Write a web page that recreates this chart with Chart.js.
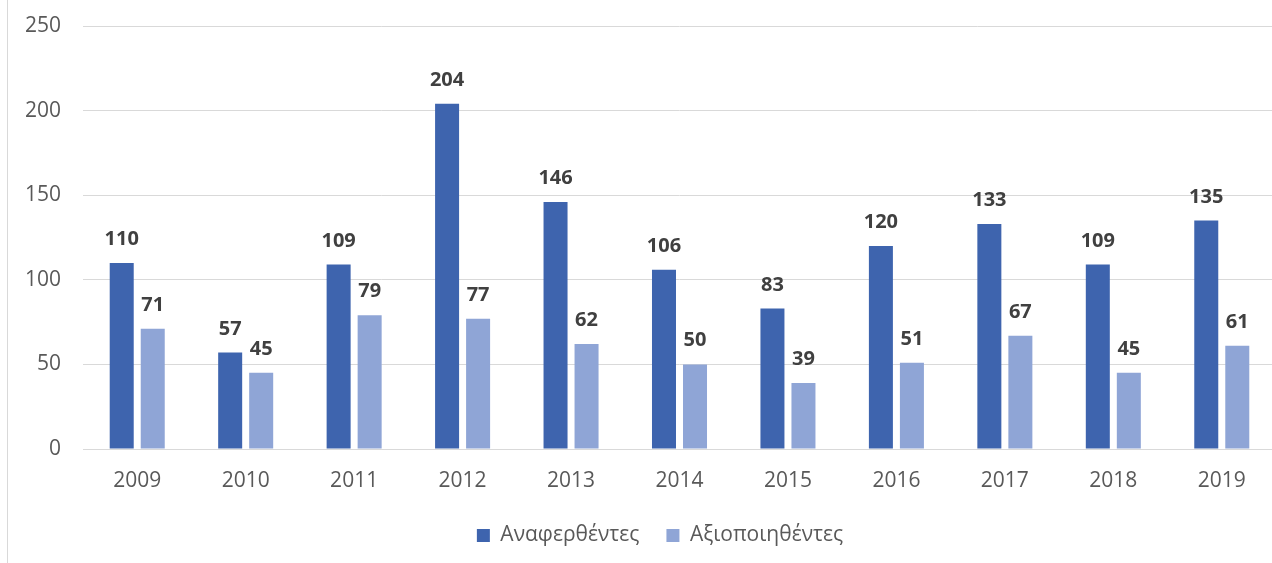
<!DOCTYPE html>
<html>
<head>
<meta charset="utf-8">
<script src="https://cdn.jsdelivr.net/npm/chart.js@4/dist/chart.umd.min.js"></script>
<style>
html,body{margin:0;padding:0;background:#fff;overflow:hidden;width:1272px;height:563px;}
#wrap{position:absolute;left:0;top:0;width:1280px;height:563px;}
#border{position:absolute;left:7px;top:0;width:1px;height:563px;background:#d9d9d9;}
</style>
</head>
<body>
<div id="wrap"><canvas id="c" width="1280" height="563"></canvas></div>
<div id="border"></div>
<script>
const years = ['2009','2010','2011','2012','2013','2014','2015','2016','2017','2018','2019'];
const reported = [110, 57, 109, 204, 146, 106, 83, 120, 133, 109, 135];
const prosecuted = [71, 45, 79, 77, 62, 50, 39, 51, 67, 45, 61];
const seriesNames = ['Αναφερθέντες', 'Αξιοποιηθέντες'];
const yTicks = [0, 50, 100, 150, 200, 250];

const FONT = '"Open Sans", "Noto Sans", sans-serif';

const valueLabels = {
  id: 'valueLabels',
  afterLayout(chart) {
    chart.legend.left += 22;
    chart.legend.right += 22;
  },
  afterDatasetsDraw(chart) {
    const ctx = chart.ctx;
    ctx.save();
    ctx.font = 'bold 20px ' + FONT;
    ctx.fillStyle = '#404040';
    ctx.textAlign = 'center';
    ctx.textBaseline = 'alphabetic';
    chart.data.datasets.forEach((ds, i) => {
      const meta = chart.getDatasetMeta(i);
      meta.data.forEach((bar, j) => {
        ctx.fillText(String(ds.data[j]), bar.x, bar.y - 18);
      });
    });
    ctx.restore();
  }
};

new Chart(document.getElementById('c'), {
  type: 'bar',
  data: {
    labels: years,
    datasets: [
      { label: seriesNames[0], data: reported, backgroundColor: '#3E64AE', borderWidth: 0 },
      { label: seriesNames[1], data: prosecuted, backgroundColor: '#8FA5D6', borderWidth: 0 }
    ]
  },
  options: {
    responsive: false,
    animation: false,
    devicePixelRatio: 1,
    categoryPercentage: 0.572,
    barPercentage: 0.774,
    layout: { padding: { top: 26, right: 4, left: 0, bottom: 7 } },
    plugins: {
      legend: {
        position: 'bottom',
        labels: {
          boxWidth: 13, boxHeight: 13, padding: 27,
          color: '#595959',
          font: { family: FONT, size: 21 }
        }
      },
      tooltip: { enabled: false }
    },
    scales: {
      x: {
        afterFit(scale) { scale.height = 49; },
        grid: { display: false, drawTicks: false },
        border: { display: true, color: '#d9d9d9', width: 1 },
        ticks: { color: '#595959', font: { family: FONT, size: 21 }, padding: 19 }
      },
      y: {
        min: 0, max: 250,
        afterBuildTicks(scale) { scale.ticks = yTicks.map(v => ({ value: v })); },
        afterFit(scale) { scale.width = 83; scale.paddingTop = 12; scale.paddingBottom = 12; },
        grid: { color: '#d9d9d9', lineWidth: 1, drawTicks: false },
        border: { display: false },
        ticks: { color: '#595959', font: { family: FONT, size: 21 }, padding: 22 }
      }
    }
  },
  plugins: [valueLabels]
});
</script>
</body>
</html>
